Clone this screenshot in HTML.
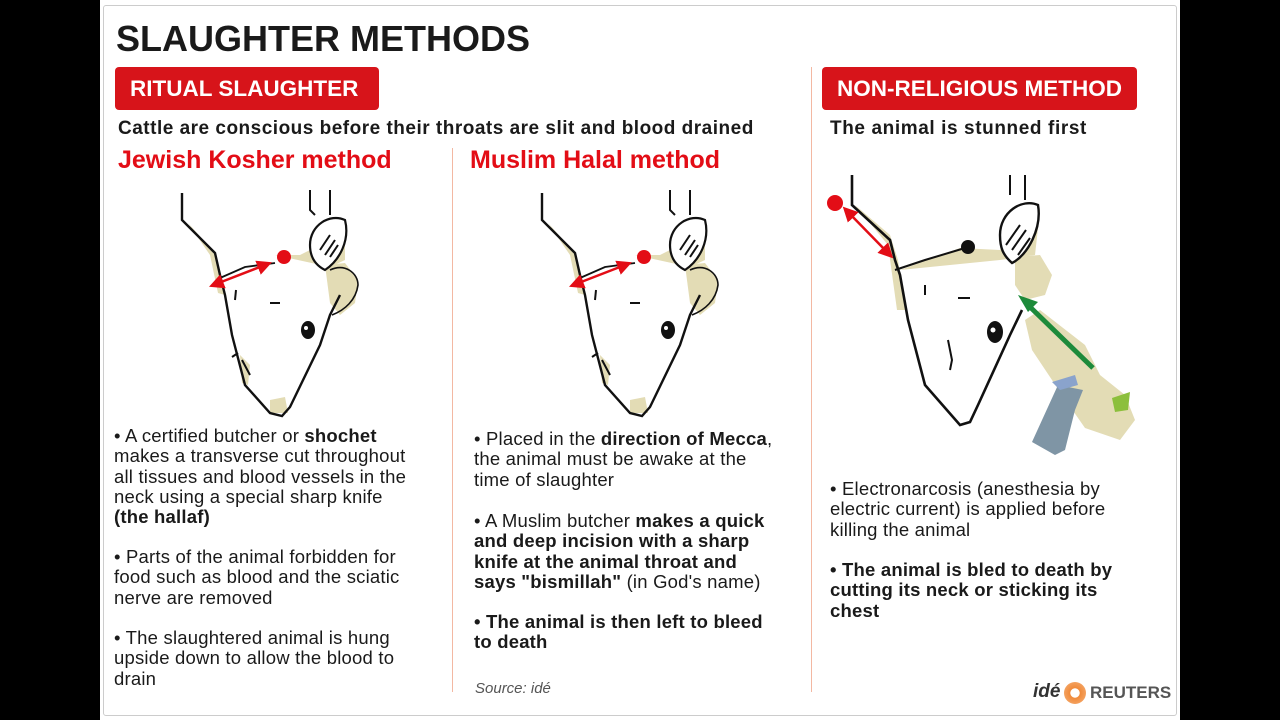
<!DOCTYPE html>
<html><head><meta charset="utf-8"><style>
body{margin:0;width:1280px;height:720px;background:#000;position:relative;overflow:hidden;font-family:"Liberation Sans",Arial,sans-serif}
#card{position:absolute;left:100px;top:0;width:1080px;height:720px;background:#fff}
#frame{position:absolute;left:103px;top:5px;width:1072px;height:709px;border:1px solid #ccc;border-radius:3px}
.t{position:absolute;white-space:nowrap;color:#1a1a1a}
.box{position:absolute;background:#d7141a;color:#fff;font-weight:bold;font-size:22.5px;border-radius:4px;line-height:43px;padding-left:15px;box-sizing:border-box;white-space:nowrap}
.h{position:absolute;color:#e30d16;font-weight:bold;font-size:25px;white-space:nowrap}
.b{position:absolute;font-size:18.5px;line-height:20.3px;color:#1a1a1a;letter-spacing:0.2px;white-space:nowrap}
.vl{position:absolute;width:1px;background:#f3b8a2}
</style></head><body>
<div id="card"></div><div id="frame"></div>
<div class="t" style="left:116px;top:18px;font-size:36px;font-weight:bold">SLAUGHTER METHODS</div>
<div class="box" style="left:115px;top:67px;width:264px;height:43px">RITUAL SLAUGHTER</div>
<div class="box" style="left:822px;top:67px;width:315px;height:43px">NON-RELIGIOUS METHOD</div>
<div class="t" style="left:118px;top:118px;font-size:19px;font-weight:bold;letter-spacing:0.5px">Cattle are conscious before their throats are slit and blood drained</div>
<div class="t" style="left:830px;top:118px;font-size:19px;font-weight:bold;letter-spacing:0.6px">The animal is stunned first</div>
<div class="h" style="left:118px;top:146px">Jewish Kosher method</div>
<div class="h" style="left:470px;top:146px">Muslim Halal method</div>
<div class="vl" style="left:452px;top:148px;height:544px"></div>
<div class="vl" style="left:811px;top:67px;height:625px"></div>

<svg style="position:absolute;left:0;top:0" width="1280" height="720">
<defs>
<g id="head">
<path d="M45,68 L52,95 L60,135 L75,200 L100,228 L118,228 L118,210 L150,160 L160,135 L155,110 L135,80 L105,75 Z" fill="#fff"/>
<path d="M18,38 L45,68 L50,90 L55,110 L48,108 L40,70 Z" fill="#e3dcb5"/>
<path d="M105,70 L130,70 L150,60 L160,50 L175,45 L175,75 L160,82 Z" fill="#e3dcb5"/>
<path d="M155,80 L175,78 L188,95 L185,118 L170,130 L160,118 Z" fill="#e3dcb5"/>
<path d="M70,170 L80,180 L78,200 L72,198 Z M100,215 L115,212 L118,228 L100,228 Z" fill="#e3dcb5"/>
<path d="M12,8 L12,35 L45,68 L50,90 L55,110 L62,150 L75,200 L100,228 L112,231 L120,222 L150,160 L160,130 L170,110" fill="none" stroke="#111" stroke-width="2.4"/>
<path d="M50,93 L75,82 L105,78" fill="none" stroke="#111" stroke-width="1.8"/>
<path d="M140,5 L140,25 L145,30 M160,5 L160,30" fill="none" stroke="#111" stroke-width="2"/>
<path d="M140,60 C140,40 160,28 175,35 C180,55 170,75 155,85 C145,80 140,72 140,60 Z" fill="#fff" stroke="#111" stroke-width="2.2"/>
<path d="M150,65 L160,50 M155,70 L165,55 M160,72 L168,60" stroke="#111" stroke-width="2"/>
<path d="M160,85 C175,78 188,88 188,100 C186,115 175,125 162,130" fill="none" stroke="#111" stroke-width="1.6"/>
<path d="M66,105 L65,115 M100,118 L110,118 M72,175 L80,190 M68,168 L62,172" stroke="#111" stroke-width="2"/>
<ellipse cx="138" cy="145" rx="7" ry="9" fill="#111"/><circle cx="136" cy="143" r="2" fill="#fff"/>
</g>
<marker id="ar" markerWidth="6" markerHeight="6" refX="3" refY="3" orient="auto-start-reverse"><path d="M0,0 L6,3 L0,6Z" fill="#e30d16"/></marker>
</defs>
<use href="#head" x="170" y="185"/>
<line x1="216" y1="284" x2="265" y2="265" stroke="#e30d16" stroke-width="2.5" marker-start="url(#ar)" marker-end="url(#ar)"/>
<circle cx="284" cy="257" r="7" fill="#e30d16"/>
<use href="#head" x="530" y="185"/>
<line x1="576" y1="284" x2="625" y2="265" stroke="#e30d16" stroke-width="2.5" marker-start="url(#ar)" marker-end="url(#ar)"/>
<circle cx="644" cy="257" r="7" fill="#e30d16"/>
<g transform="translate(800,160)">
<path d="M95,100 L110,160 L130,230 L165,265 L175,250 L210,175 L218,140 L200,110 L170,95 Z" fill="#fff"/>
<path d="M55,45 L90,75 L98,100 L105,150 L97,150 L88,85 Z" fill="#e3dcb5"/>
<path d="M100,110 L160,88 L200,90 L215,55 L240,50 L235,95 L200,100 Z" fill="#e3dcb5"/>
<path d="M215,97 L240,95 L252,115 L245,135 L225,140 L215,125 Z" fill="#e3dcb5"/>
<path d="M52,15 L52,45 L90,80 L95,100 L100,115 L108,160 L125,225 L160,265 L170,262 L178,245 L210,175 L222,150" fill="none" stroke="#111" stroke-width="2.6"/>
<path d="M95,110 L125,100 L165,88" fill="none" stroke="#111" stroke-width="2"/>
<path d="M210,15 L210,35 M225,15 L225,40" stroke="#111" stroke-width="2"/>
<path d="M200,75 C200,52 222,38 238,45 C242,68 228,95 212,103 C203,95 200,88 200,75 Z" fill="#fff" stroke="#111" stroke-width="2.4"/>
<path d="M206,85 L220,65 M212,90 L226,70 M218,95 L230,78" stroke="#111" stroke-width="2"/>
<circle cx="168" cy="87" r="7" fill="#111"/>
<path d="M125,125 L125,135 M158,138 L170,138 M148,180 L152,200 L150,210" stroke="#111" stroke-width="2" fill="none"/>
<ellipse cx="195" cy="172" rx="8" ry="11" fill="#111"/><circle cx="193" cy="170" r="2.5" fill="#fff"/>
<circle cx="35" cy="43" r="8" fill="#e30d16"/>
<line x1="48" y1="52" x2="88" y2="93" stroke="#e30d16" stroke-width="2.5" marker-start="url(#ar)" marker-end="url(#ar)"/>
<path d="M225,160 L240,150 L285,185 L300,215 L325,235 L335,260 L320,280 L285,268 L262,235 L232,190 Z" fill="#e3dcb5"/>
<path d="M258,225 L283,230 L275,250 L265,290 L255,295 L232,282 Z" fill="#7f95a5"/>
<path d="M252,222 L275,215 L278,225 L260,230 Z" fill="#8aa3cc"/>
<path d="M312,238 L330,232 L328,250 L315,252 Z" fill="#8cbf3c"/>
<line x1="293" y1="208" x2="228" y2="145" stroke="#1d8a3a" stroke-width="5"/>
<path d="M218,135 L238,142 L228,152 Z" fill="#1d8a3a"/>
</g>
</svg>

<div class="b" style="left:114px;top:426px">• A certified butcher or <b>shochet</b><br>makes a transverse cut throughout<br>all tissues and blood vessels in the<br>neck using a special sharp knife<br><b>(the hallaf)</b></div>
<div class="b" style="left:114px;top:547px">• Parts of the animal forbidden for<br>food such as blood and the sciatic<br>nerve are removed</div>
<div class="b" style="left:114px;top:628px">• The slaughtered animal is hung<br>upside down to allow the blood to<br>drain</div>
<div class="b" style="left:474px;top:429px">• Placed in the <b>direction of Mecca</b>,<br>the animal must be awake at the<br>time of slaughter</div>
<div class="b" style="left:474px;top:511px">• A Muslim butcher <b>makes a quick<br>and deep incision with a sharp<br>knife at the animal throat and<br>says "bismillah"</b> (in God's name)</div>
<div class="b" style="left:474px;top:612px"><b>• The animal is then left to bleed<br>to death</b></div>
<div class="t" style="left:475px;top:680px;font-size:15px;font-style:italic;color:#555">Source: idé</div>
<div class="b" style="left:830px;top:479px">• Electronarcosis (anesthesia by<br>electric current) is applied before<br>killing the animal</div>
<div class="b" style="left:830px;top:560px"><b>• The animal is bled to death by<br>cutting its neck or sticking its<br>chest</b></div>
<div class="t" style="left:1033px;top:681px;font-size:19px;font-style:italic;font-weight:bold;color:#333">idé</div>
<div style="position:absolute;left:1064px;top:682px;width:22px;height:22px;border-radius:50%;background:radial-gradient(circle,#fff 28%,#f08a3a 32%,#f6b27a 100%)"></div>
<div class="t" style="left:1090px;top:683px;font-size:17px;font-weight:bold;color:#555">REUTERS</div>
</body></html>
